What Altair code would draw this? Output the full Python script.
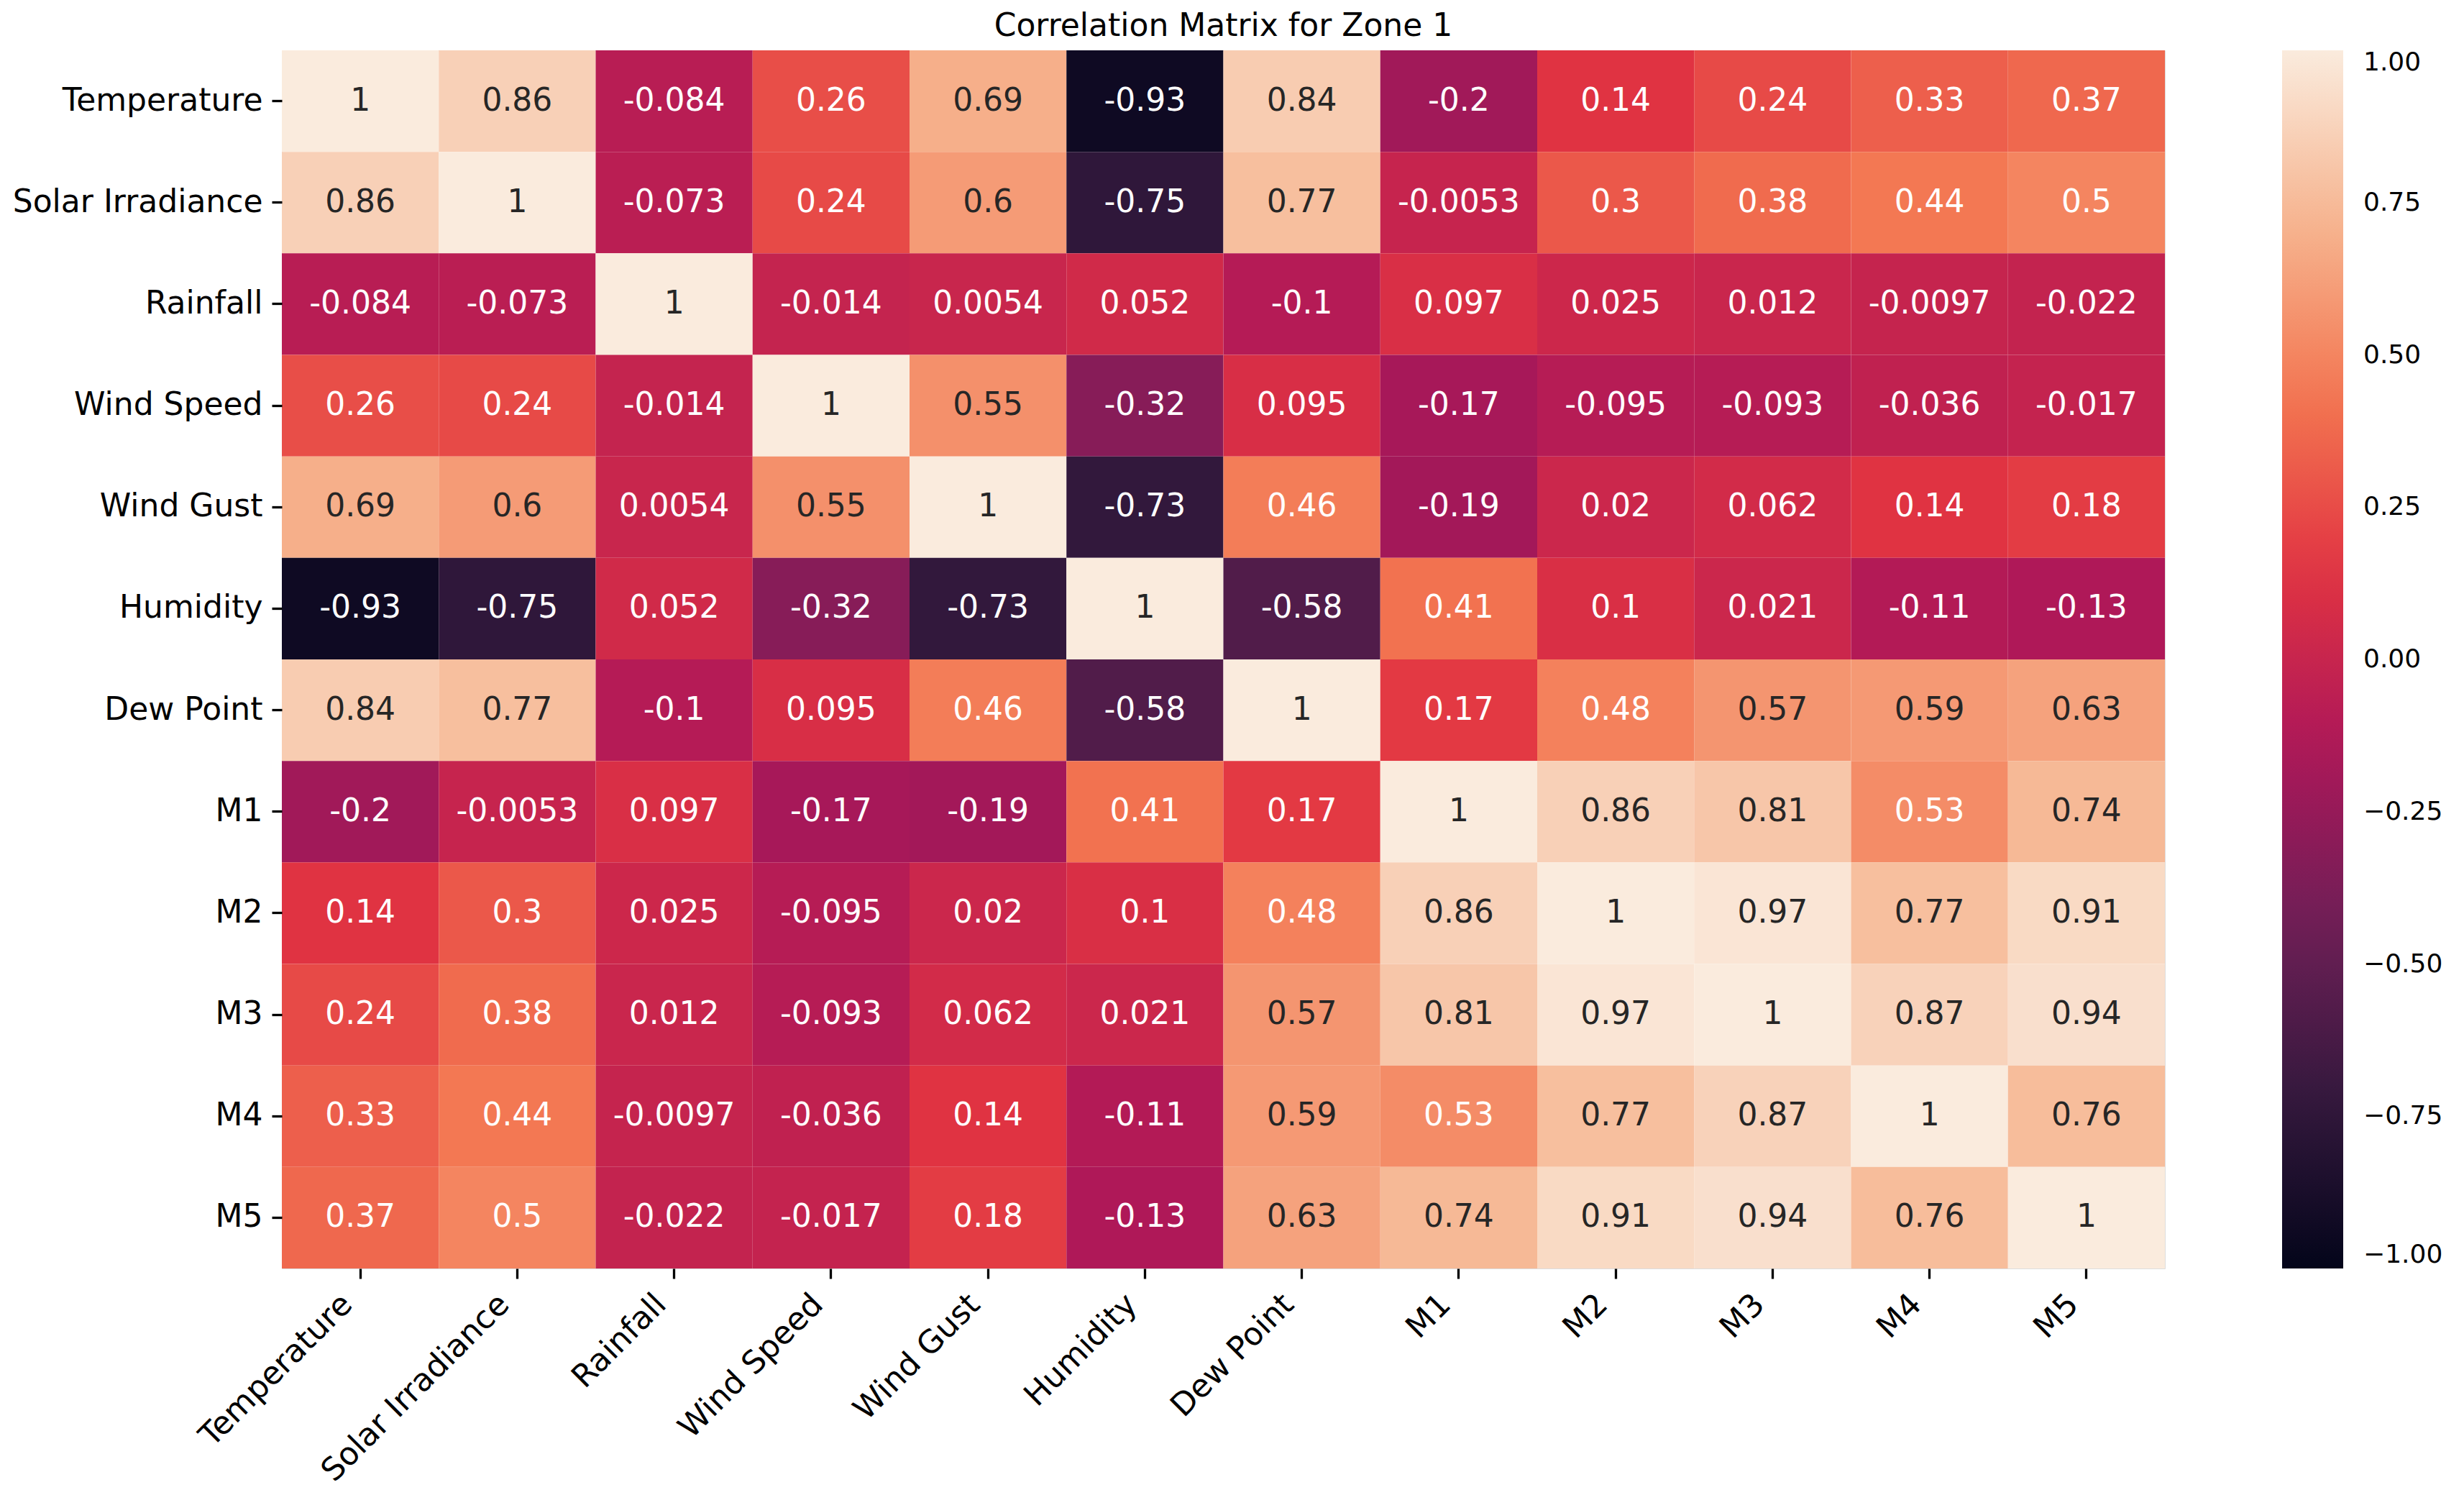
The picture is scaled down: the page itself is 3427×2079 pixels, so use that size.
import altair as alt
import pandas as pd

labels = ["Temperature", "Solar Irradiance", "Rainfall", "Wind Speed", "Wind Gust",
          "Humidity", "Dew Point", "M1", "M2", "M3", "M4", "M5"]

r_temperature = [1, 0.86, -0.084, 0.26, 0.69, -0.93, 0.84, -0.2, 0.14, 0.24, 0.33, 0.37]
r_solar = [0.86, 1, -0.073, 0.24, 0.6, -0.75, 0.77, -0.0053, 0.3, 0.38, 0.44, 0.5]
r_rainfall = [-0.084, -0.073, 1, -0.014, 0.0054, 0.052, -0.1, 0.097, 0.025, 0.012, -0.0097, -0.022]
r_windspeed = [0.26, 0.24, -0.014, 1, 0.55, -0.32, 0.095, -0.17, -0.095, -0.093, -0.036, -0.017]
r_windgust = [0.69, 0.6, 0.0054, 0.55, 1, -0.73, 0.46, -0.19, 0.02, 0.062, 0.14, 0.18]
r_humidity = [-0.93, -0.75, 0.052, -0.32, -0.73, 1, -0.58, 0.41, 0.1, 0.021, -0.11, -0.13]
r_dewpoint = [0.84, 0.77, -0.1, 0.095, 0.46, -0.58, 1, 0.17, 0.48, 0.57, 0.59, 0.63]
r_m1 = [-0.2, -0.0053, 0.097, -0.17, -0.19, 0.41, 0.17, 1, 0.86, 0.81, 0.53, 0.74]
r_m2 = [0.14, 0.3, 0.025, -0.095, 0.02, 0.1, 0.48, 0.86, 1, 0.97, 0.77, 0.91]
r_m3 = [0.24, 0.38, 0.012, -0.093, 0.062, 0.021, 0.57, 0.81, 0.97, 1, 0.87, 0.94]
r_m4 = [0.33, 0.44, -0.0097, -0.036, 0.14, -0.11, 0.59, 0.53, 0.77, 0.87, 1, 0.76]
r_m5 = [0.37, 0.5, -0.022, -0.017, 0.18, -0.13, 0.63, 0.74, 0.91, 0.94, 0.76, 1]

rows = [r_temperature, r_solar, r_rainfall, r_windspeed, r_windgust, r_humidity,
        r_dewpoint, r_m1, r_m2, r_m3, r_m4, r_m5]

colorbar_ticks = [-1.0, -0.75, -0.5, -0.25, 0.0, 0.25, 0.5, 0.75, 1.0]

# seaborn "rocket" colormap stops
rocket_domain = [-1.0, -0.7143, -0.4286, -0.1429, 0.1429, 0.4286, 0.7143, 1.0]
rocket_colors = ["#03051a", "#35193e", "#701f57", "#ad1759", "#e13342", "#f37651", "#f6b48f", "#faebdd"]

records = []
for rname, vals in zip(labels, rows):
    for cname, v in zip(labels, vals):
        records.append({"row": rname, "col": cname, "value": float(v), "label": format(v, ".2g")})
df = pd.DataFrame(records)

FONT = "DejaVu Sans"
FS = 44
CB_FS = 36

base = alt.Chart(df).encode(
    x=alt.X("col:N", sort=labels, title=None,
            scale=alt.Scale(paddingInner=0, paddingOuter=0),
            axis=alt.Axis(orient="bottom", labelAngle=-45, labelAlign="right",
                          labelBaseline="middle", labelOffset=-18, labelPadding=29,
                          tickSize=14, tickWidth=3.3, tickColor="#000000",
                          domain=False, labelFontSize=FS, labelFont=FONT,
                          labelColor="#000000", labelLimit=2000)),
    y=alt.Y("row:N", sort=labels, title=None,
            scale=alt.Scale(paddingInner=0, paddingOuter=0),
            axis=alt.Axis(orient="left", labelAngle=0, labelAlign="right",
                          labelBaseline="middle", labelPadding=13,
                          tickSize=14, tickWidth=3.3, tickColor="#000000",
                          domain=False, labelFontSize=FS, labelFont=FONT,
                          labelColor="#000000", labelLimit=2000)),
)

heat = base.mark_rect().encode(
    color=alt.Color("value:Q", title=None,
                    scale=alt.Scale(domain=rocket_domain, range=rocket_colors, interpolate="rgb"),
                    legend=alt.Legend(orient="none", legendX=2782, legendY=0,
                                      direction="vertical", gradientLength=1694,
                                      gradientThickness=85, gradientStrokeWidth=0,
                                      values=colorbar_ticks, format=".2f",
                                      labelFontSize=CB_FS, labelFont=FONT, labelColor="#000000",
                                      labelOffset=28, labelBaseline="middle",
                                      labelOverlap=False, padding=0, offset=0))
)

text = base.mark_text(font=FONT, fontSize=FS, align="center", baseline="middle").encode(
    text="label:N",
    color=alt.condition("datum.value >= 0.54", alt.value("#262626"), alt.value("#ffffff")),
)

chart = alt.layer(heat, text).properties(
    width=2619,
    height=1694,
    title=alt.TitleParams("Correlation Matrix for Zone 1", font=FONT, fontSize=FS,
                          fontWeight="normal", color="#000000", anchor="middle",
                          baseline="alphabetic", offset=1, dy=25),
    autosize=alt.AutoSizeParams(type="none"),
    padding={"left": 384, "top": 62, "right": 400, "bottom": 307},
).configure_view(strokeWidth=0).configure(background="white")

chart.save("out.html", embed_options={"renderer": "svg", "actions": False})
